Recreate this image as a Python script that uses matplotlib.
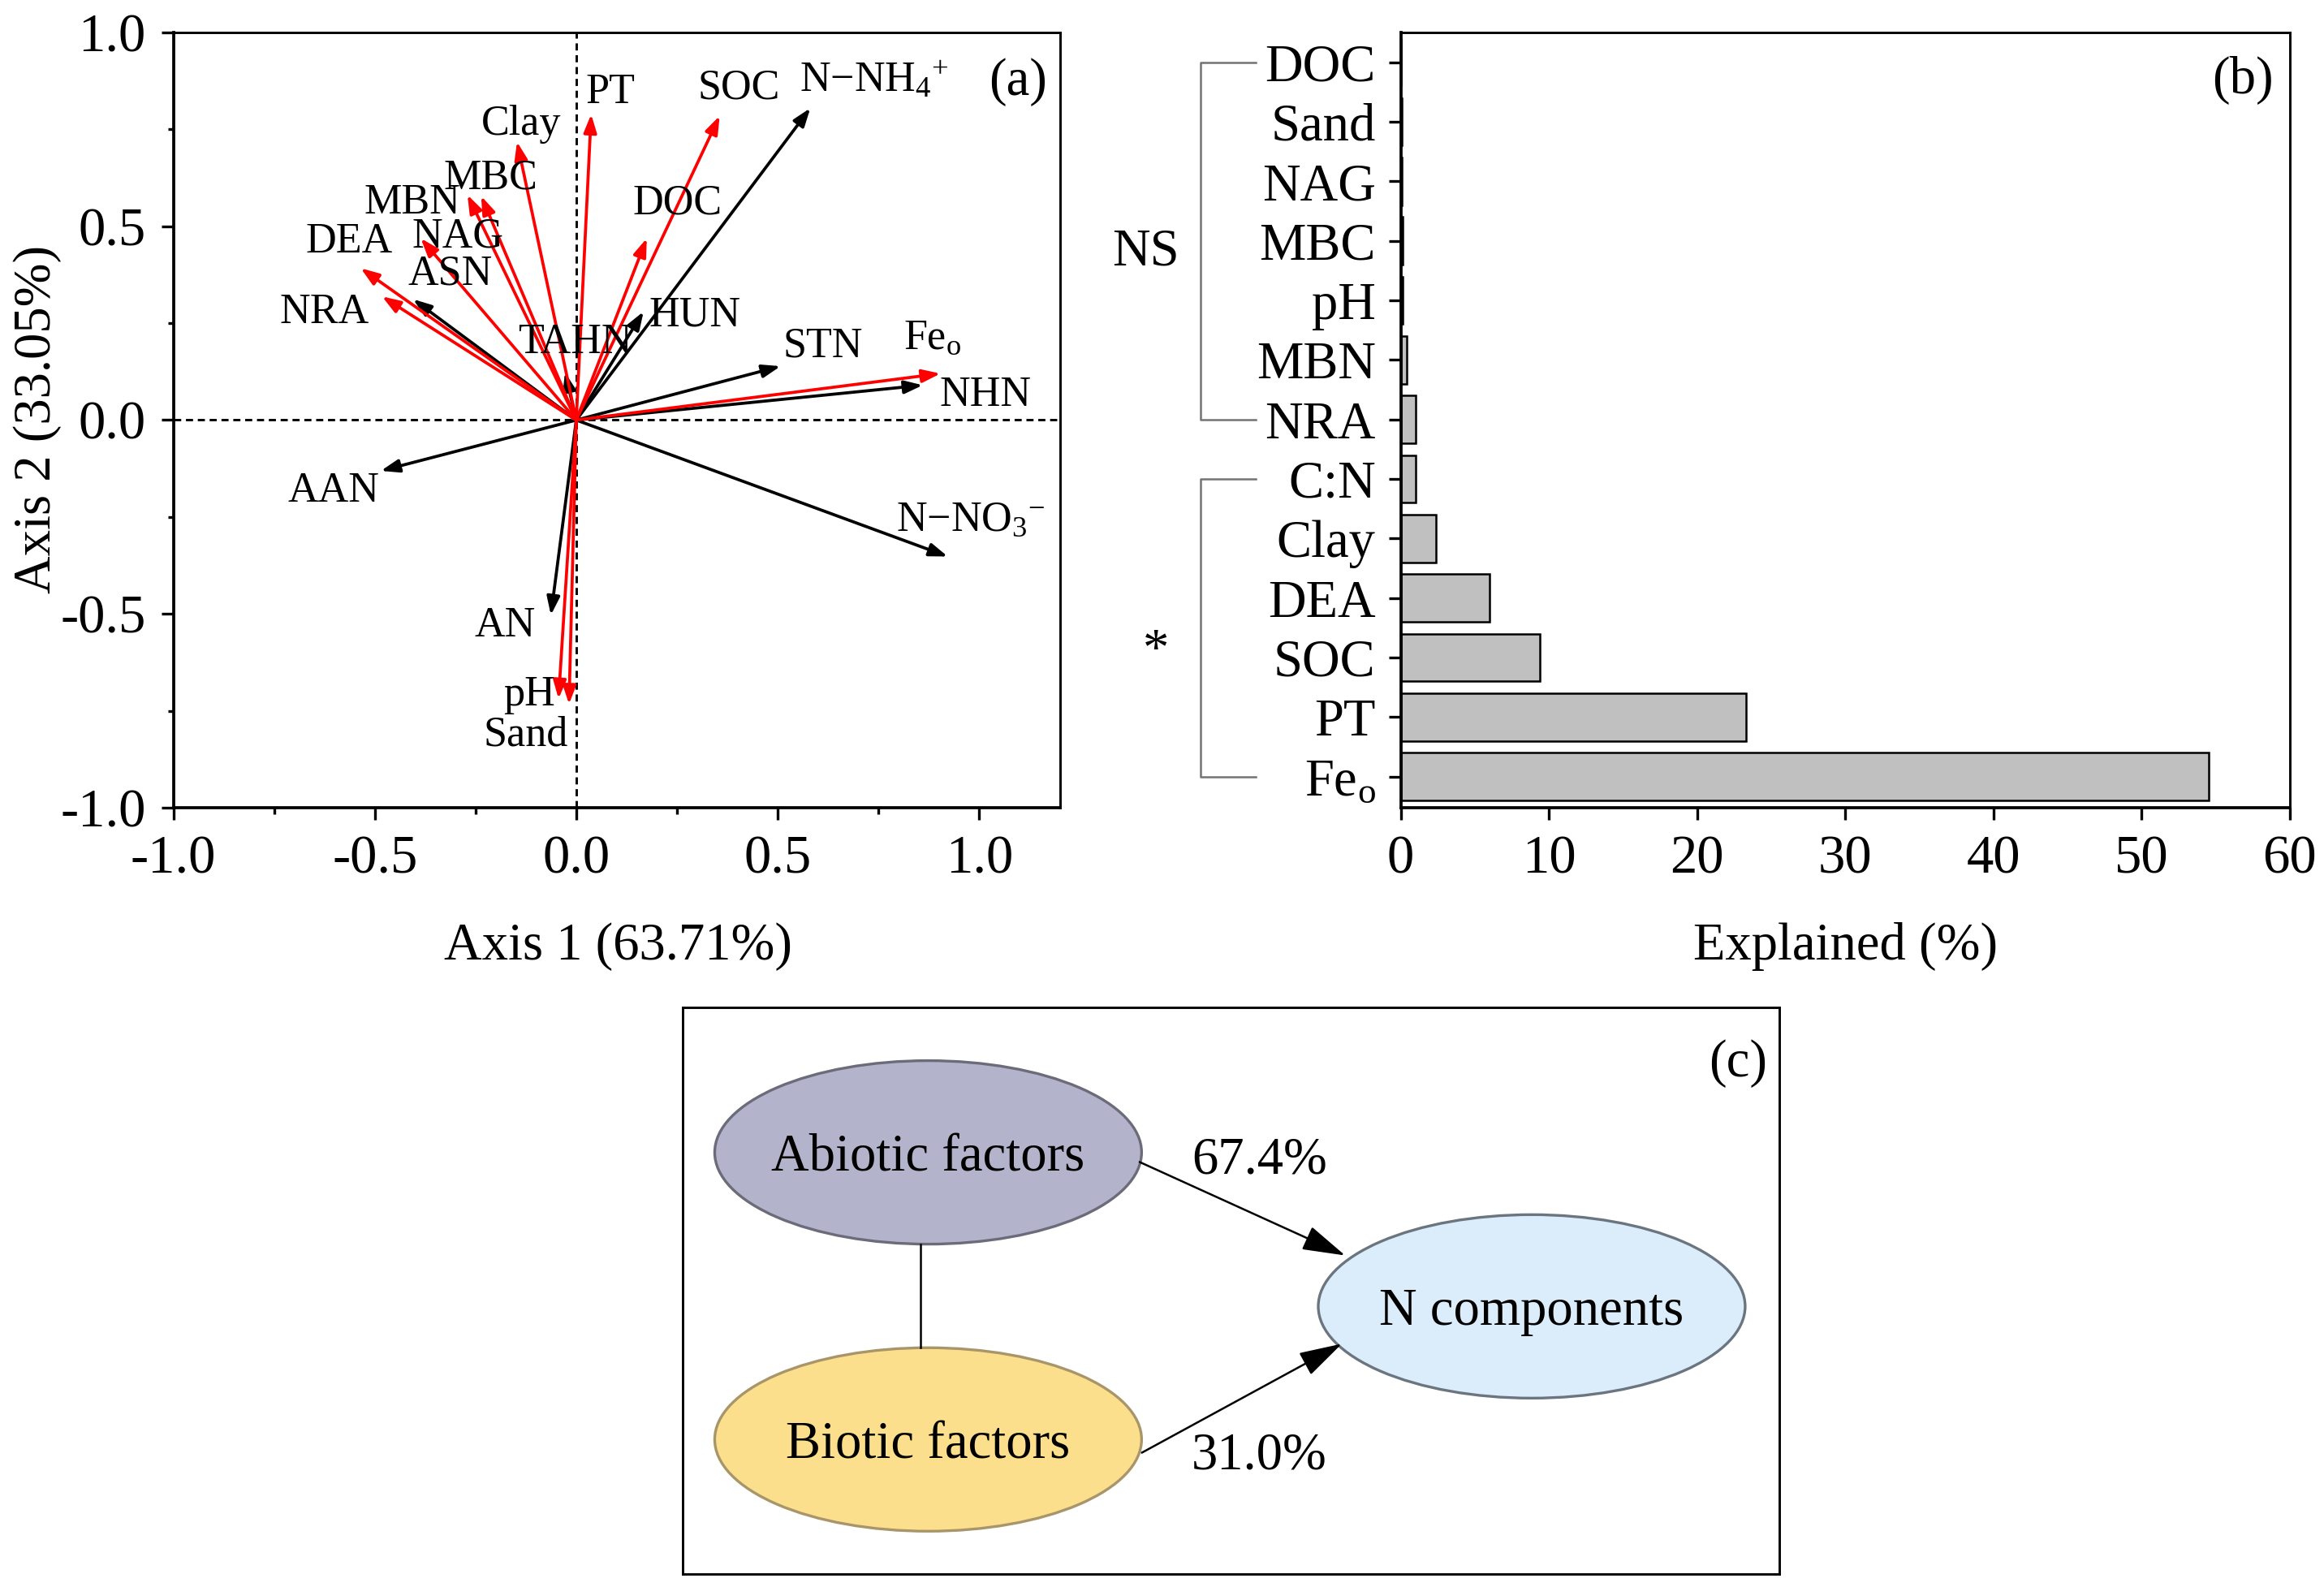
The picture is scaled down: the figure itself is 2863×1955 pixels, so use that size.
import matplotlib
matplotlib.use('Agg')
import matplotlib.pyplot as plt
import matplotlib.transforms as mtransforms
from matplotlib.patches import Ellipse
from matplotlib.ticker import MultipleLocator

plt.rcParams['font.family'] = 'Liberation Serif'
plt.rcParams['mathtext.fontset'] = 'custom'
plt.rcParams['mathtext.rm'] = 'Liberation Serif'
plt.rcParams['mathtext.it'] = 'Liberation Serif:italic'
plt.rcParams['axes.unicode_minus'] = False

# ---- panel (a): RDA biplot ----
# environmental variables (red)
env_names = ['PT', 'SOC', 'Clay', 'MBC', 'MBN', 'NAG', 'DEA', 'NRA', 'DOC',
             'F$\\mathrm{e}_\\mathrm{o}$', 'pH', 'Sand']
env_x = [0.037, 0.356, -0.147, -0.236, -0.270, -0.386, -0.535, -0.482, 0.175, 0.904, -0.044, -0.018]
env_y = [0.789, 0.785, 0.718, 0.578, 0.581, 0.469, 0.392, 0.319, 0.469, 0.120, -0.719, -0.733]
env_lab = [(0.084, 0.856), (0.404, 0.869), (-0.137, 0.775), (-0.212, 0.635), (-0.407, 0.571),
           (-0.294, 0.484), (-0.563, 0.471), (-0.626, 0.290), (0.251, 0.571), (0.885, 0.223),
           (-0.116, -0.698), (-0.125, -0.801)]

# N components (black)
n_names = ['N\u2212N$\\mathrm{H}_4{}^{+}$', 'ASN', 'TAHN', 'HUN', 'STN', 'NHN',
           'N\u2212N$\\mathrm{O}_3{}^{-}$', 'AAN', 'AN']
n_x = [0.581, -0.405, -0.028, 0.167, 0.507, 0.860, 0.922, -0.485, -0.063]
n_y = [0.805, 0.312, 0.123, 0.280, 0.139, 0.090, -0.352, -0.131, -0.503]
n_lab = [(0.740, 0.888), (-0.313, 0.389), (-0.004, 0.212), (0.294, 0.282), (0.613, 0.203),
         (1.015, 0.076), (0.979, -0.247), (-0.603, -0.171), (-0.176, -0.519)]

# ---- panel (b): explained variation ----
b_vars = ['DOC', 'Sand', 'NAG', 'MBC', 'pH', 'MBN', 'NRA',
          'C:N', 'Clay', 'DEA', 'SOC', 'PT', 'F$\\mathrm{e}_\\mathrm{o}$']
b_expl = [0.05, 0.1, 0.1, 0.15, 0.15, 0.4, 1.0, 1.0, 2.4, 6.0, 9.4, 23.3, 54.5]

# ---- panel (c): variation partitioning ----
c_nodes = ['Abiotic factors', 'Biotic factors', 'N components']
c_pct = ['67.4%', '31.0%']

fig = plt.figure(figsize=(2863 / 300, 1955 / 300), dpi=300)
fs_tick = 16
fs_lab = 15.5
fs_arrow = 12.5
VA = 'center_baseline'

# panel a
ax = fig.add_axes([0.0746, 0.4911, 0.3814, 0.4884])
ax.axhline(0, color='k', ls='--', lw=0.7, dashes=(3, 2))
ax.axvline(0, color='k', ls='--', lw=0.7, dashes=(3, 2))

def draw_arrow(x, y, col):
    ax.annotate('', xy=(x, y), xytext=(0, 0),
                arrowprops=dict(arrowstyle='-|>,head_length=0.45,head_width=0.16',
                                color=col, lw=0.9, mutation_scale=10,
                                shrinkA=0, shrinkB=0))

for x, y in zip(n_x, n_y):
    draw_arrow(x, y, 'k')
for x, y in zip(env_x, env_y):
    draw_arrow(x, y, '#ff0000')
for name, (lx, ly) in zip(n_names + env_names, n_lab + env_lab):
    ax.text(lx, ly, name, fontsize=fs_arrow, ha='center', va=VA)

ax.set_xlim(-1.0, 1.2)
ax.set_ylim(-1.0, 1.0)
ax.set_xticks([-1.0, -0.5, 0.0, 0.5, 1.0])
ax.set_yticks([-1.0, -0.5, 0.0, 0.5, 1.0])
ax.xaxis.set_minor_locator(MultipleLocator(0.25))
ax.yaxis.set_minor_locator(MultipleLocator(0.25))
ax.set_xticklabels(['-1.0', '-0.5', '0.0', '0.5', '1.0'])
ax.set_yticklabels(['-1.0', '-0.5', '0.0', '0.5', '1.0'])
ax.tick_params(which='major', length=3.6, width=0.8, labelsize=fs_tick, pad=4.5)
ax.tick_params(which='minor', length=1.8, width=0.8)
for s in ax.spines.values():
    s.set_linewidth(0.7)
ax.spines['left'].set_linewidth(0.9)
ax.spines['bottom'].set_linewidth(0.9)
ax.text(0.953, 0.943, '(a)', transform=ax.transAxes, fontsize=fs_lab, ha='center', va=VA)
fig.text(0.266, 0.407, 'Axis 1 (63.71%)', fontsize=fs_lab, ha='center', va=VA)
fig.text(0.016, 0.736, 'Axis 2 (33.05%)', fontsize=fs_lab, ha='center', va='center', rotation=90)

# panel b
bx = fig.add_axes([0.6027, 0.4911, 0.3826, 0.4884])
pos = list(range(len(b_vars)))
bx.barh(pos, b_expl, height=0.8, color='#c0c0c0', edgecolor='k', linewidth=0.6)
bx.set_ylim(len(b_vars) - 0.48, -0.5)
bx.set_xlim(0, 60)
bx.set_xticks([0, 10, 20, 30, 40, 50, 60])
bx.set_yticks(pos)
bx.set_yticklabels(b_vars)
bx.tick_params(axis='x', length=3.6, width=0.8, labelsize=fs_tick, pad=4.5)
bx.tick_params(axis='y', length=3.6, width=0.8, labelsize=fs_lab, pad=3.8)
for s in bx.spines.values():
    s.set_linewidth(0.7)
bx.spines['left'].set_linewidth(0.9)
bx.spines['bottom'].set_linewidth(0.9)
bx.text(0.947, 0.946, '(b)', transform=bx.transAxes, fontsize=fs_lab, ha='center', va=VA)
fig.text(0.794, 0.407, 'Explained (%)', fontsize=fs_lab, ha='center', va=VA)

# significance brackets
tr = mtransforms.blended_transform_factory(bx.transAxes, bx.transData)
for y0, y1 in [(0, 6), (7, 12)]:
    bx.plot([-0.163, -0.225, -0.225, -0.163], [y0, y0, y1, y1], color='0.45', lw=0.6,
            transform=tr, clip_on=False)
bx.text(-0.287, 3.1, 'NS', transform=tr, fontsize=fs_lab, ha='center', va=VA)
bx.text(-0.275, 9.9, '*', transform=tr, fontsize=fs_lab, ha='center', va='center')

# panel c
cx = fig.add_axes([0.2936, 0.0084, 0.4722, 0.3568])
cx.set_xlim(0, 1)
cx.set_ylim(0, 1)
cx.set_xticks([])
cx.set_yticks([])
for s in cx.spines.values():
    s.set_linewidth(0.7)

node_xy = [(0.224, 0.744), (0.224, 0.237), (0.774, 0.472)]
node_fc = ['#b3b3cb', '#fcdf8c', '#dbecfb']
node_ec = ['#6b6b7a', '#a8956a', '#6b7580']
for name, (x, y), fc, ec in zip(c_nodes, node_xy, node_fc, node_ec):
    cx.add_patch(Ellipse((x, y), 0.389, 0.324, facecolor=fc, edgecolor=ec, lw=0.8))
    cx.text(x, y, name, fontsize=fs_lab, ha='center', va=VA)

cx.plot([0.2168, 0.2168], [0.744 - 0.162, 0.237 + 0.162], color='k', lw=0.6)
arrow_pts = [((0.4167, 0.727), (0.604, 0.562)), ((0.4187, 0.2136), (0.601, 0.406))]
lab_pts = [(0.526, 0.740), (0.526, 0.217)]
for (p0, p1), txt, lp in zip(arrow_pts, c_pct, lab_pts):
    cx.annotate('', xy=p1, xytext=p0,
                arrowprops=dict(arrowstyle='-|>,head_length=1.1,head_width=0.32',
                                color='k', lw=0.6, mutation_scale=10,
                                shrinkA=0, shrinkB=0))
    cx.text(lp[0], lp[1], txt, fontsize=fs_lab, ha='center', va=VA)
cx.text(0.962, 0.911, '(c)', fontsize=fs_lab, ha='center', va=VA)

fig.savefig('out.png', dpi=300, facecolor='white')
